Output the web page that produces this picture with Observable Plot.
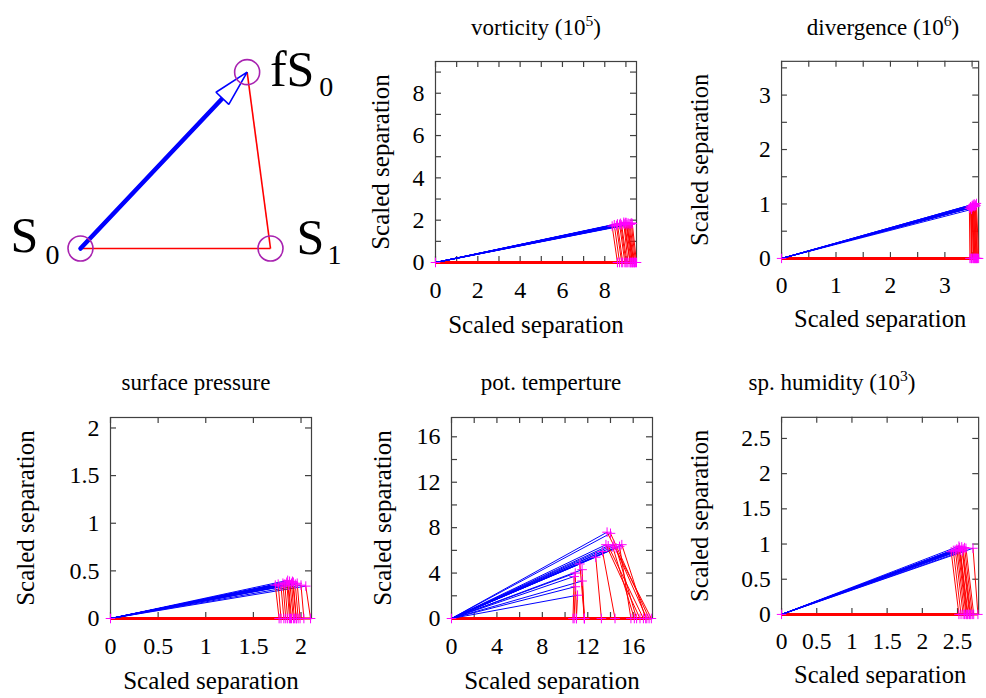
<!DOCTYPE html>
<html>
<head>
<meta charset="utf-8">
<script src="https://cdn.jsdelivr.net/npm/d3@7"></script>
<script src="https://cdn.jsdelivr.net/npm/@observablehq/plot@0.6"></script>
<style>
  body { margin: 0; background: #fff; }
  #fig { position: relative; width: 986px; height: 698px; overflow: hidden; background: #fff;
         font-family: "Liberation Serif", Tinos, "Times New Roman", Times, "DejaVu Serif", "Noto Serif", serif; color: #000; }
  .panel { position: absolute; }
  .panel svg { overflow: visible; }
  .title { position: absolute; transform: translate(-50%, -50%); font-size: 23px; white-space: nowrap; }
  .title sup { font-size: 0.68em; vertical-align: 0.55em; line-height: 0; }
</style>
</head>
<body>
<div id="fig"></div>
<script>
// ---------- schematic: S0, S1 and the forecast point fS0 ----------
const diagramNames = ["S", "S", "fS"];
const diagramSubs = ["0", "1", "0"];
const diagramX = [0, 1, 0.877];
const diagramY = [0, 0, 0.928];

// ---------- vorticity (10^5) ----------
const vortTipX  = [8.35, 8.45, 8.55, 8.6, 8.7, 8.75, 8.8, 8.9, 8.95, 9.0, 9.05, 9.1, 9.15, 9.2, 9.25, 9.3, 8.9, 9.0];
const vortTipY  = [1.72, 1.78, 1.75, 1.82, 1.8, 1.85, 1.77, 1.84, 1.81, 1.88, 1.79, 1.86, 1.83, 1.8, 1.87, 1.84, 1.9, 1.89];
const vortBaseX = [8.6, 8.7, 8.8, 8.85, 8.95, 9.0, 9.05, 9.1, 9.2, 9.25, 9.3, 9.3, 9.35, 9.4, 9.45, 9.5, 9.2, 9.4];
const vortLabels = [0, 2, 4, 6, 8];
const vortTicks = [0, 1, 2, 3, 4, 5, 6, 7, 8, 9];

// ---------- divergence (10^6) ----------
const divTipX  = [3.45, 3.47, 3.48, 3.5, 3.5, 3.52, 3.53, 3.54, 3.55, 3.56, 3.57, 3.58, 3.49, 3.51];
const divTipY  = [0.92, 0.95, 0.93, 0.97, 0.94, 0.99, 0.96, 1.0, 0.95, 0.98, 0.97, 1.01, 0.9, 0.96];
const divBaseX = [3.46, 3.49, 3.5, 3.52, 3.53, 3.55, 3.56, 3.57, 3.58, 3.59, 3.6, 3.62, 3.48, 3.54];
const divLabels = [0, 1, 2, 3];
const divTicks = [0, 0.5, 1, 1.5, 2, 2.5, 3, 3.5];

// ---------- surface pressure ----------
const spTipX  = [1.73, 1.76, 1.79, 1.81, 1.83, 1.85, 1.87, 1.88, 1.9, 1.92, 1.94, 1.96, 2.0, 2.05, 1.86, 1.91];
const spTipY  = [0.35, 0.36, 0.34, 0.37, 0.36, 0.38, 0.35, 0.39, 0.37, 0.38, 0.36, 0.37, 0.35, 0.34, 0.4, 0.39];
const spBaseX = [1.77, 1.79, 1.82, 1.84, 1.86, 1.88, 1.9, 1.92, 1.93, 1.95, 1.97, 1.99, 2.03, 2.1, 1.89, 1.95];
const spLabels = [0, 0.5, 1, 1.5, 2];
const spTicks = [0, 0.5, 1, 1.5, 2];

// ---------- pot. temperture ----------
const ptTipX  = [13.7, 14.0, 13.6, 13.8, 15.0, 14.5, 14.2, 14.8, 13.3, 12.7, 11.3, 11.5, 10.9, 10.8, 11.5, 10.9, 11.1, 14.3];
const ptTipY  = [7.6, 7.5, 6.5, 6.4, 6.5, 6.2, 6.3, 6.35, 5.9, 5.4, 4.8, 4.3, 4.0, 3.7, 3.3, 2.8, 2.05, 6.5];
const ptBaseX = [17.6, 17.4, 16.6, 16.9, 17.1, 16.3, 16.1, 15.8, 14.4, 13.2, 11.7, 11.7, 11.0, 10.7, 11.7, 10.8, 11.0, 17.2];
const ptLabels = [0, 4, 8, 12, 16];
const ptTicks = [0, 2, 4, 6, 8, 10, 12, 14, 16];

// ---------- sp. humidity (10^3) ----------
const shTipX  = [2.41, 2.44, 2.47, 2.49, 2.51, 2.53, 2.54, 2.56, 2.58, 2.6, 2.62, 2.72, 2.52, 2.57];
const shTipY  = [0.89, 0.91, 0.9, 0.93, 0.92, 0.95, 0.91, 0.96, 0.93, 0.95, 0.94, 0.94, 0.97, 0.9];
const shBaseX = [2.52, 2.55, 2.58, 2.6, 2.62, 2.64, 2.65, 2.67, 2.69, 2.71, 2.73, 2.79, 2.63, 2.68];
const shLabels = [0, 0.5, 1, 1.5, 2, 2.5];
const shTicks = [0, 0.5, 1, 1.5, 2, 2.5];

const serif = '"Liberation Serif", Tinos, "Times New Roman", Times, "DejaVu Serif", "Noto Serif", serif';
const fig = document.getElementById("fig");

function place(node, left, top) {
  const wrap = document.createElement("div");
  wrap.className = "panel";
  wrap.style.left = left + "px";
  wrap.style.top = top + "px";
  wrap.appendChild(node);
  fig.appendChild(wrap);
}

function addTitle(html, cx, cy) {
  const t = document.createElement("div");
  t.className = "title";
  t.innerHTML = html;
  t.style.left = cx + "px";
  t.style.top = cy + "px";
  fig.appendChild(t);
}

// open (white-filled) triangular arrow head
function openHead(color, context) {
  const ns = "http://www.w3.org/2000/svg";
  const doc = (context && context.document) || document;
  const m = doc.createElementNS(ns, "marker");
  m.setAttribute("viewBox", "-42 -13 48 26");
  m.setAttribute("markerUnits", "userSpaceOnUse");
  m.setAttribute("markerWidth", 48);
  m.setAttribute("markerHeight", 26);
  m.setAttribute("refX", 0);
  m.setAttribute("refY", 0);
  m.setAttribute("orient", "auto");
  const p = doc.createElementNS(ns, "path");
  p.setAttribute("d", "M0,0L-36,-8.8L-36,8.8Z");
  p.setAttribute("fill", "white");
  p.setAttribute("stroke", color);
  p.setAttribute("stroke-width", 1.6);
  m.appendChild(p);
  return m;
}

// ---------- schematic ----------
{
  const pts = diagramX.map((x, i) => ({x, y: diagramY[i], name: diagramNames[i], sub: diagramSubs[i]}));
  const [s0, s1, f0] = pts;
  const bigFont = 50, subFont = 28;
  const chart = Plot.plot({
    width: 350, height: 290, margin: 0,
    x: {domain: [-0.421, 1.421], axis: null},
    y: {domain: [-0.221, 1.305], axis: null},
    style: {fontFamily: serif, background: "transparent", overflow: "visible"},
    marks: [
      Plot.link([[s0, s1], [s1, f0]], {x1: d => d[0].x, y1: d => d[0].y, x2: d => d[1].x, y2: d => d[1].y, stroke: "#ff0000", strokeWidth: 1.6}),
      Plot.arrow([[s0, f0]], {x1: d => d[0].x, y1: d => d[0].y, x2: d => d[1].x, y2: d => d[1].y, stroke: "#0000ff", strokeWidth: 4.5, headLength: 0, insetEnd: 30}),
      Plot.link([[s0, f0]], {x1: d => d[0].x, y1: d => d[0].y, x2: d => d[1].x, y2: d => d[1].y, stroke: "#0000ff", strokeWidth: 1.5, markerEnd: openHead}),
      Plot.dot(pts, {x: "x", y: "y", r: 12.5, stroke: "#a822b0", strokeWidth: 1.6, fill: "none"}),
      Plot.text([s0], {x: "x", y: "y", text: "name", fontSize: bigFont, lineAnchor: "bottom", dx: -56, dy: 3}),
      Plot.text([s0], {x: "x", y: "y", text: "sub", fontSize: subFont, lineAnchor: "bottom", dx: -28, dy: 15}),
      Plot.text([s1], {x: "x", y: "y", text: "name", fontSize: bigFont, lineAnchor: "bottom", dx: 40, dy: 5}),
      Plot.text([s1], {x: "x", y: "y", text: "sub", fontSize: subFont, lineAnchor: "bottom", dx: 64, dy: 15}),
      Plot.text([f0], {x: "x", y: "y", text: "name", fontSize: bigFont, lineAnchor: "bottom", dx: 45, dy: 14}),
      Plot.text([f0], {x: "x", y: "y", text: "sub", fontSize: subFont, lineAnchor: "bottom", dx: 79, dy: 24})
    ]
  });
  place(chart, 0, 0);
}

// ---------- one scatter panel of triangles ----------
const SIZE = 201;
const ML = 100, MR = 8, MT = 8, MB = 84;
const TICK = 6;
const TICK_FONT = 24, LABEL_FONT = 25;

function panel({tipX, tipY, baseX, max, labels, ticks, left, top, yLabelDx}) {
  const tri = tipX.map((x, i) => ({x, y: tipY[i], b: baseX[i]}));
  const pluses = [{x: 0, y: 0}, ...tri.map(d => ({x: d.x, y: d.y})), ...tri.map(d => ({x: d.b, y: 0}))];
  const fmt = d => String(d);
  const axisColor = "#404040";
  const chart = Plot.plot({
    width: ML + SIZE + MR, height: MT + SIZE + MB,
    marginLeft: ML, marginRight: MR, marginTop: MT, marginBottom: MB,
    x: {domain: [0, max], axis: null},
    y: {domain: [0, max], axis: null},
    style: {fontFamily: serif, fontSize: TICK_FONT + "px", color: "#000", background: "transparent", overflow: "visible"},
    marks: [
      Plot.frame({stroke: axisColor, strokeWidth: 1.2}),
      Plot.tickX(ticks, {x: d => d, insetTop: SIZE - TICK, stroke: axisColor, strokeWidth: 1.2}),
      Plot.tickX(ticks, {x: d => d, insetBottom: SIZE - TICK, stroke: axisColor, strokeWidth: 1.2}),
      Plot.tickY(ticks, {y: d => d, insetRight: SIZE - TICK, stroke: axisColor, strokeWidth: 1.2}),
      Plot.tickY(ticks, {y: d => d, insetLeft: SIZE - TICK, stroke: axisColor, strokeWidth: 1.2}),
      Plot.axisX({ticks: labels, tickSize: 0, tickPadding: 18, tickFormat: fmt, label: null, fontSize: TICK_FONT}),
      Plot.axisY({ticks: labels, tickSize: 0, tickPadding: 11, tickFormat: fmt, label: null, fontSize: TICK_FONT}),
      Plot.text(["Scaled separation"], {frameAnchor: "bottom", dy: 70, fontSize: LABEL_FONT}),
      Plot.text(["Scaled separation"], {frameAnchor: "left", textAnchor: "middle", rotate: -90, dx: yLabelDx, fontSize: LABEL_FONT}),
      Plot.link(tri, {x1: 0, y1: 0, x2: "b", y2: 0, stroke: "#ff0000", strokeWidth: 2}),
      Plot.link(tri, {x1: 0, y1: 0, x2: "x", y2: "y", stroke: "#0000ff", strokeWidth: 1}),
      Plot.link(tri, {x1: "x", y1: "y", x2: "b", y2: 0, stroke: "#ff0000", strokeWidth: 1}),
      Plot.dot(pluses, {x: "x", y: "y", symbol: "plus", r: 3.2, stroke: "#ff00ff", strokeWidth: 1})
    ]
  });
  place(chart, left - ML, top - MT);
}

panel({tipX: vortTipX, tipY: vortTipY, baseX: vortBaseX, max: 9.5, labels: vortLabels, ticks: vortTicks, left: 435, top: 61, yLabelDx: -55});
panel({tipX: divTipX, tipY: divTipY, baseX: divBaseX, max: 3.62, labels: divLabels, ticks: divTicks, left: 783, top: 61, yLabelDx: -83});
panel({tipX: spTipX, tipY: spTipY, baseX: spBaseX, max: 2.11, labels: spLabels, ticks: spTicks, left: 110, top: 417, yLabelDx: -85});
panel({tipX: ptTipX, tipY: ptTipY, baseX: ptBaseX, max: 17.7, labels: ptLabels, ticks: ptTicks, left: 451, top: 417, yLabelDx: -69});
panel({tipX: shTipX, tipY: shTipY, baseX: shBaseX, max: 2.8, labels: shLabels, ticks: shTicks, left: 783, top: 417, yLabelDx: -83});

addTitle("vorticity (10<sup>5</sup>)", 536, 28);
addTitle("divergence (10<sup>6</sup>)", 883, 28);
addTitle("surface pressure", 196, 383);
addTitle("pot. temperture", 551, 383);
addTitle("sp. humidity (10<sup>3</sup>)", 832, 383);
</script>
</body>
</html>
